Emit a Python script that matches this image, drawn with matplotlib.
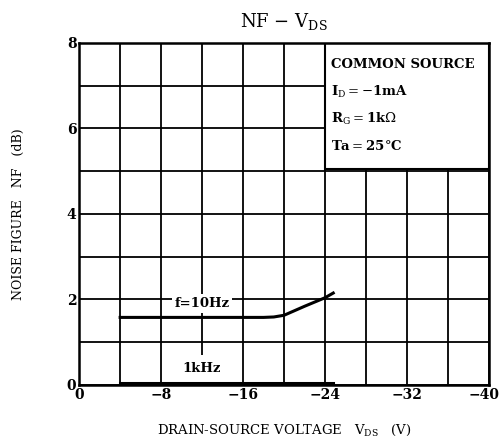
import matplotlib
matplotlib.use("Agg")
import matplotlib.pyplot as plt
from matplotlib.patches import Rectangle
from matplotlib.transforms import ScaledTranslation

plt.rcParams["font.family"] = ["DejaVu Serif"]
plt.rcParams["mathtext.fontset"] = "dejavuserif"

# curves
vds_10hz = [-4, -12, -18, -19, -20, -22, -24, -24.8]
nf_10hz = [1.58, 1.58, 1.58, 1.59, 1.63, 1.84, 2.04, 2.15]

vds_1khz = [-4, -12, -24.8]
nf_1khz = [0.04, 0.04, 0.04]

x_major = [0, -8, -16, -24, -32, -40]
x_minor = [-4, -12, -20, -28, -36]
y_major = [0, 2, 4, 6, 8]
y_minor = [1, 3, 5, 7]

conditions = ["COMMON SOURCE",
              r"I$_{\mathrm{D}}$$=-$1mA",
              r"R$_{\mathrm{G}}$$=$1k$\Omega$",
              "Ta$=$25°C"]

fig = plt.figure(figsize=(5.01, 4.41), dpi=100)
ax = fig.add_axes([0.158, 0.127, 0.818, 0.776])

ax.set_xlim(0, -40)
ax.set_ylim(0, 8)
ax.set_xticks(x_major)
ax.set_xticks(x_minor, minor=True)
ax.set_yticks(y_major)
ax.set_yticks(y_minor, minor=True)
ax.set_xticklabels([str(v).replace("-", "\u2212") for v in x_major], fontsize=10, fontweight="bold")
ax.set_yticklabels([str(v) for v in y_major], fontsize=10, fontweight="bold")
ax.tick_params(which="both", length=0, pad=2)
ax.grid(True, which="both", color="black", linewidth=1.3)
ax.set_axisbelow(True)
for s in ax.spines.values():
    s.set_linewidth(1.8)

# last label sits at the page edge, nudge it in a bit
last = ax.get_xticklabels()[-1]
last.set_transform(last.get_transform() + ScaledTranslation(-5 / 100, 0, fig.dpi_scale_trans))

ax.plot(vds_10hz, nf_10hz, color="black", linewidth=2.2, zorder=3)
ax.plot(vds_1khz, nf_1khz, color="black", linewidth=2.2, zorder=5, clip_on=False)

ax.text(-12, 1.9, "f=10Hz", fontsize=9.5, fontweight="bold", ha="center", va="center",
        bbox=dict(facecolor="white", edgecolor="none", pad=2), zorder=4)
ax.text(-12, 0.38, "1kHz", fontsize=9.5, fontweight="bold", ha="center", va="center",
        bbox=dict(facecolor="white", edgecolor="none", pad=5), zorder=4)

box = Rectangle((-24, 5.05), -16, 2.95, facecolor="white", edgecolor="black",
                linewidth=1.5, zorder=2.5)
ax.add_patch(box)
for i, line in enumerate(conditions):
    ax.text(-24.6, 7.5 - i * 0.64, line, fontsize=9.5, fontweight="bold",
            ha="left", va="center", zorder=4)

ax.set_title(r"NF $-$ V$_{\mathrm{DS}}$", fontsize=13, pad=11)
ax.set_xlabel(r"DRAIN-SOURCE VOLTAGE   V$_{\mathrm{DS}}$   (V)", fontsize=9.5, labelpad=15)
ax.set_ylabel("NOISE FIGURE   NF   (dB)", fontsize=9, labelpad=30)

fig.savefig("out.png", dpi=100)
